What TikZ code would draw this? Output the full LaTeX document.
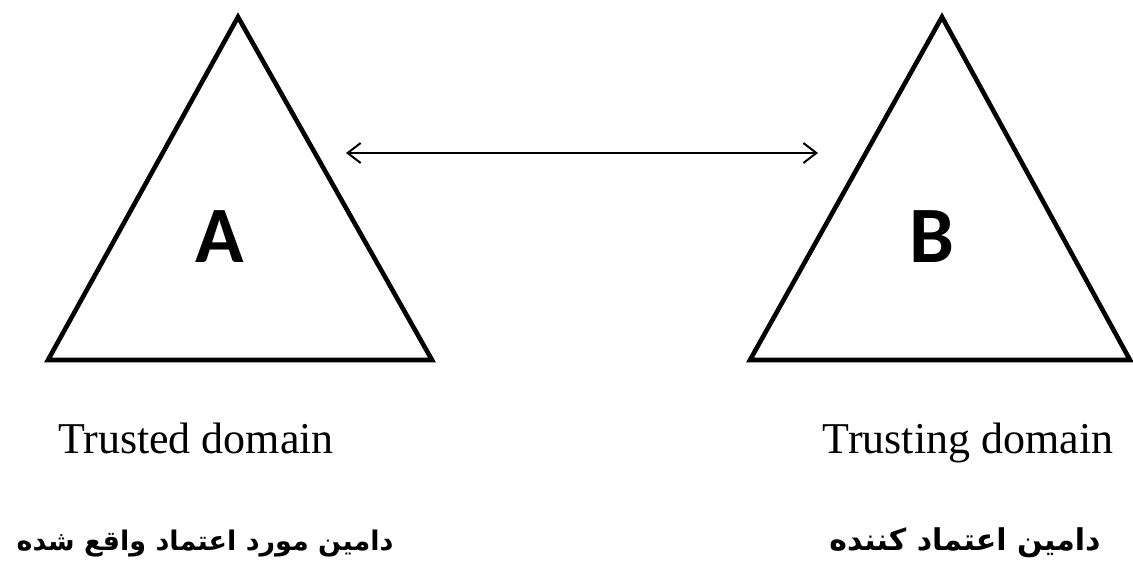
\documentclass[tikz,border=0pt]{standalone}
\usepackage{fontspec}
\setmainfont{Liberation Serif}
\newfontfamily\letterfont{Carlito}
\newfontfamily\arabicfont[Script=Arabic]{DejaVu Sans}
\TeXXeTstate=1
\usetikzlibrary{arrows.meta}
\begin{document}
\begin{tikzpicture}[x=1pt,y=-1pt,
  tri/.style={draw=black,line width=4.6pt,line join=miter},
  letter/.style={font=\letterfont\bfseries\fontsize{80}{80}\selectfont,anchor=base,inner sep=0pt},
  label/.style={font=\fontsize{44}{44}\selectfont,anchor=base,inner sep=0pt},
  fa/.style={font=\arabicfont\bfseries\fontsize{#1}{#1}\selectfont,anchor=base,inner sep=0pt},
  link/.style={line width=2pt,{Straight Barb[length=13pt,width=20pt,line width=2pt]}-{Straight Barb[length=13pt,width=20pt,line width=2pt]}}]
\useasboundingbox (0,0) rectangle (1133,565);
% triangles
\draw[tri] (238,17) -- (432,360) -- (48,360) -- cycle;
\draw[tri] (942,17) -- (1130,360) -- (750,360) -- cycle;
% letters
\node[letter] (A) at (220,262) {A};
\node[letter] (B) at (932,262) {B};
% arrow
\coordinate (la) at (346,153);
\coordinate (lb) at (818,153);
\draw[link] (la) -- (lb);
% labels
\node[label] (ta) at (196,453) {Trusted domain};
\node[label] (tb) at (968,453) {Trusting domain};
\node[fa=27] (fa1) at (205,550) {\beginR دامین مورد اعتماد واقع شده\endR};
\node[fa=30] (fa2) at (965,550) {\beginR دامین اعتماد کننده\endR};
\end{tikzpicture}
\end{document}
